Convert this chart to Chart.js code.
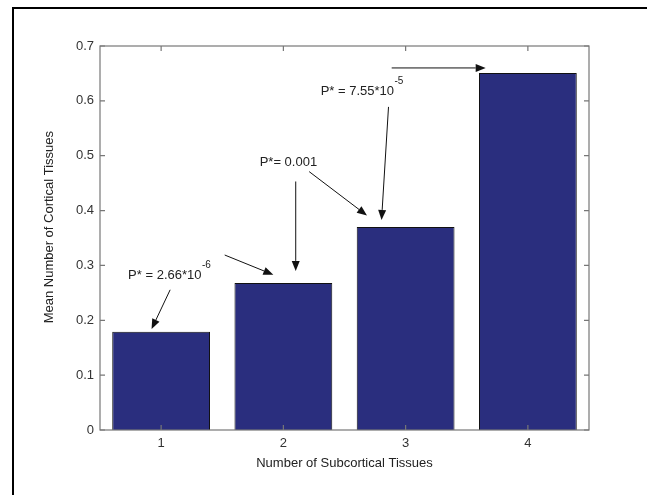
<!DOCTYPE html>
<html>
<head>
<meta charset="utf-8">
<script src="https://cdn.jsdelivr.net/npm/chart.js@4/dist/chart.umd.min.js"></script>
<style>
  html, body { margin: 0; padding: 0; background: #fff; }
  #wrap { position: relative; width: 647px; height: 495px; overflow: hidden; }
  #frame { position: absolute; left: 12px; top: 7px; width: 700px; height: 600px;
           border-left: 2px solid #000; border-top: 2px solid #000; pointer-events: none; }
  canvas { position: absolute; left: 0; top: 0; }
</style>
</head>
<body>
<div id="wrap">
  <canvas id="bars" width="647" height="495"></canvas>
  <div id="frame"></div>
</div>
<script>
// data
var categories = ["1", "2", "3", "4"];
var meanCortical = [0.179, 0.268, 0.370, 0.651];
var yTicks = [0, 0.1, 0.2, 0.3, 0.4, 0.5, 0.6, 0.7];

// annotation arrows, in data units (x = number of subcortical tissues)
var arrowFromX = [1.074, 1.520, 2.101, 2.211, 2.860, 2.886];
var arrowFromY = [0.2556, 0.319, 0.453, 0.471, 0.589, 0.660];
var arrowToX   = [0.922, 1.918, 2.101, 2.684, 2.803, 3.655];
var arrowToY   = [0.184, 0.283, 0.290, 0.391, 0.383, 0.660];

// p-value labels: text, superscript, left x, middle y (data units)
var pText = ["P* = 2.66*10", "P*= 0.001", "P* = 7.55*10"];
var pSup  = ["-6", "", "-5"];
var pX    = [0.730, 1.806, 2.305];
var pY    = [0.282, 0.488, 0.618];

var FONT = "'Liberation Sans', Arial, Helvetica, sans-serif";

var boxAndNotes = {
	id: "boxAndNotes",
	afterDatasetsDraw: function(chart) {
		var ctx = chart.ctx;
		var a = chart.chartArea;
		var xs = chart.scales.x, ys = chart.scales.y;
		var tl = 5;
		ctx.save();
		ctx.strokeStyle = "#777";
		ctx.lineWidth = 1.2;
		ctx.strokeRect(a.left, a.top, a.right - a.left, a.bottom - a.top);
		ctx.beginPath();
		for (var i = 0; i < yTicks.length; i++) {
			var py = ys.getPixelForValue(yTicks[i]);
			ctx.moveTo(a.left, py); ctx.lineTo(a.left + tl, py);
			ctx.moveTo(a.right, py); ctx.lineTo(a.right - tl, py);
		}
		for (var j = 0; j < categories.length; j++) {
			var px = xs.getPixelForValue(j);
			ctx.moveTo(px, a.top); ctx.lineTo(px, a.top + tl);
			ctx.moveTo(px, a.bottom); ctx.lineTo(px, a.bottom - tl);
		}
		ctx.stroke();

		// arrows
		ctx.strokeStyle = "#111";
		ctx.fillStyle = "#111";
		ctx.lineWidth = 1;
		for (var k = 0; k < arrowFromX.length; k++) {
			var x1 = xs.getPixelForValue(arrowFromX[k] - 1), y1 = ys.getPixelForValue(arrowFromY[k]);
			var x2 = xs.getPixelForValue(arrowToX[k] - 1), y2 = ys.getPixelForValue(arrowToY[k]);
			var ang = Math.atan2(y2 - y1, x2 - x1);
			var hl = 10, hw = 4;
			var bx = x2 - hl * Math.cos(ang), by = y2 - hl * Math.sin(ang);
			ctx.beginPath();
			ctx.moveTo(x1, y1); ctx.lineTo(bx, by);
			ctx.stroke();
			ctx.beginPath();
			ctx.moveTo(x2, y2);
			ctx.lineTo(bx + hw * Math.sin(ang), by - hw * Math.cos(ang));
			ctx.lineTo(bx - hw * Math.sin(ang), by + hw * Math.cos(ang));
			ctx.closePath();
			ctx.fill();
		}

		// p-value texts
		ctx.fillStyle = "#222";
		ctx.textBaseline = "middle";
		ctx.textAlign = "left";
		for (var m = 0; m < pText.length; m++) {
			var tx = xs.getPixelForValue(pX[m] - 1), ty = ys.getPixelForValue(pY[m]);
			ctx.font = "13px " + FONT;
			ctx.fillText(pText[m], tx, ty);
			if (pSup[m]) {
				var w = ctx.measureText(pText[m]).width;
				ctx.font = "10px " + FONT;
				ctx.fillText(pSup[m], tx + w + 0.5, ty - 10);
			}
		}
		ctx.restore();
	}
};

new Chart(document.getElementById("bars"), {
	type: "bar",
	data: {
		labels: categories,
		datasets: [{
			data: meanCortical,
			backgroundColor: "#2a2e7e",
			borderColor: "#111",
			borderWidth: 1,
			categoryPercentage: 1,
			barPercentage: 0.8
		}]
	},
	options: {
		responsive: false,
		animation: false,
		layout: { padding: { left: 38, right: 58, top: 46, bottom: 0 } },
		plugins: { legend: { display: false }, tooltip: { enabled: false } },
		scales: {
			x: {
				offset: true,
				grid: { display: false, drawTicks: false },
				border: { display: false },
				ticks: { color: "#333", padding: 6, font: { family: FONT, size: 13 } },
				title: { display: true, text: "Number of Subcortical Tissues", color: "#222",
					padding: { top: 4, bottom: 24 }, font: { family: FONT, size: 13 } },
				afterFit: function(s) { s.height = 65; }
			},
			y: {
				min: 0, max: 0.7,
				grid: { display: false, drawTicks: false },
				border: { display: false },
				afterBuildTicks: function(s) { s.ticks = yTicks.map(function(v) { return { value: v }; }); },
				ticks: {
					color: "#333", padding: 6, font: { family: FONT, size: 13 },
					callback: function(v) { return v === 0 ? "0" : v.toFixed(1); }
				},
				// leading spaces lift the rotated title a little above the plot middle, as in the figure
				title: { display: true, text: "\u00a0\u00a0\u00a0\u00a0\u00a0\u00a0Mean Number of Cortical Tissues", color: "#222",
					padding: { top: 4, bottom: 4 }, font: { family: FONT, size: 13 } },
				afterFit: function(s) { s.width = 62; }
			}
		}
	},
	plugins: [boxAndNotes]
});
</script>
</body>
</html>
